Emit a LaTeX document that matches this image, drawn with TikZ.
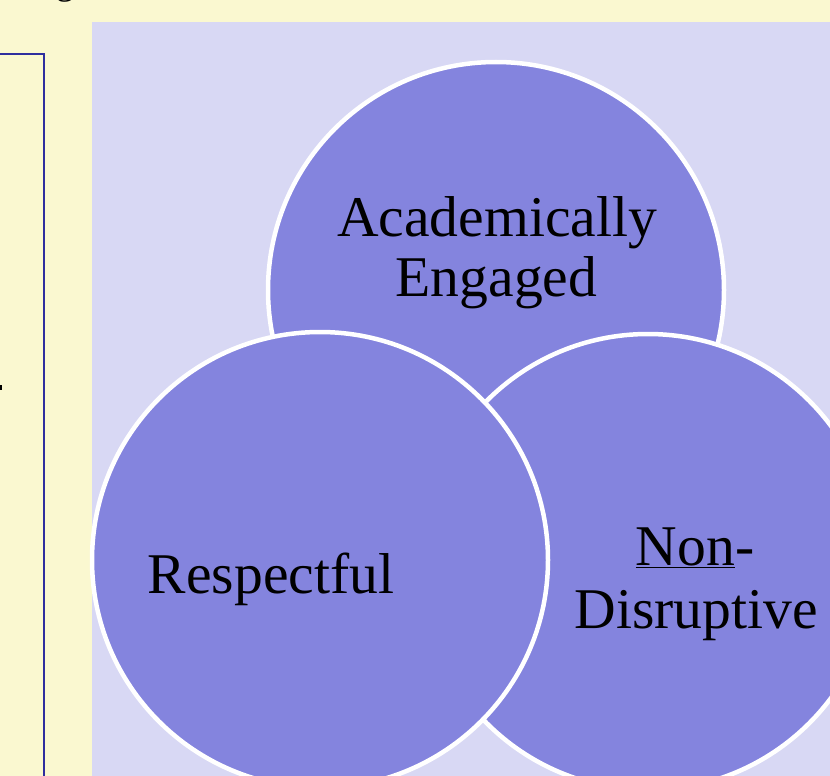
\documentclass[tikz,border=0pt]{standalone}
\usepackage{fontspec}
\setmainfont{Liberation Serif}
\definecolor{paper}{RGB}{250,248,208}
\definecolor{panel}{RGB}{216,216,244}
\definecolor{disc}{RGB}{132,132,222}
\definecolor{frame}{RGB}{46,46,158}
\tikzset{
  disk/.style={circle, draw=white, line width=4.5pt, fill=disc, minimum size=456pt, inner sep=0pt},
  lbl/.style={anchor=base, inner sep=0pt, font=\fontsize{57.6}{62}\selectfont},
}
\begin{document}
\begin{tikzpicture}[x=1pt,y=-1pt]
  \clip (0,0) rectangle (830,776);
  % page and panels
  \fill[paper] (0,0) rectangle (830,776);
  \node[anchor=base west, inner sep=0pt, font=\fontsize{36}{40}\selectfont] (head) at (56,-5) {g};
  \draw[frame, line width=2pt] (-5,54) -- (44,54) -- (44,790);
  \fill[black] (0,385) rectangle (2,390);
  \fill[panel] (92,22) rectangle (835,780);
  % the three overlapping circles
  \node[disk] (cEng) at (496,290) {};
  \node[disk] (cNon) at (648,562) {};
  \node[disk] (cRes) at (320,560) {};
  % labels
  \node[lbl] (tAcad) at (497,236) {Academically};
  \node[lbl] (tEng) at (496.5,296) {Engaged};
  \node[lbl] (tRes) at (271,593) {Respectful};
  \node[lbl] (tNon) at (695,565) {\underline{Non}-};
  \node[lbl] (tDis) at (696,628) {Disruptive};
\end{tikzpicture}
\end{document}
